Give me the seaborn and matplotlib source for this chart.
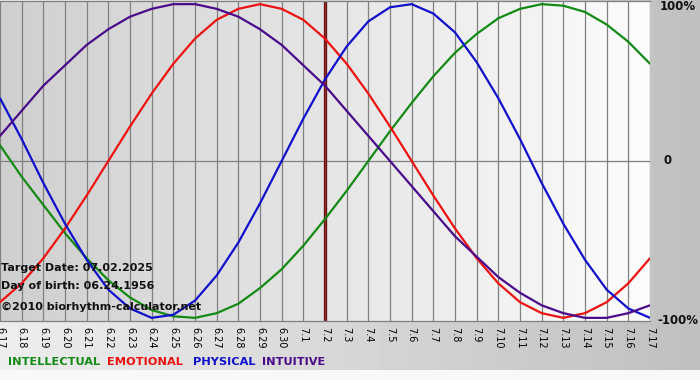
import numpy as np
import pandas as pd
import matplotlib
matplotlib.use("Agg")
import matplotlib.pyplot as plt
import seaborn as sns

# ---- data ----
day_labels = ["6.17", "6.18", "6.19", "6.20", "6.21", "6.22", "6.23", "6.24", "6.25", "6.26",
              "6.27", "6.28", "6.29", "6.30", "7.1", "7.2", "7.3", "7.4", "7.5", "7.6",
              "7.7", "7.8", "7.9", "7.10", "7.11", "7.12", "7.13", "7.14", "7.15", "7.16", "7.17"]
intellectual = [0.10, -0.10, -0.28, -0.46, -0.62, -0.76, -0.87, -0.95, -0.99, -1.00,
                -0.97, -0.91, -0.81, -0.69, -0.54, -0.37, -0.19, 0.00, 0.19, 0.37,
                0.54, 0.69, 0.81, 0.91, 0.97, 1.00, 0.99, 0.95, 0.87, 0.76, 0.62]
emotional = [-0.90, -0.78, -0.62, -0.43, -0.22, 0.00, 0.22, 0.43, 0.62, 0.78,
             0.90, 0.97, 1.00, 0.97, 0.90, 0.78, 0.62, 0.43, 0.22, 0.00,
             -0.22, -0.43, -0.62, -0.78, -0.90, -0.97, -1.00, -0.97, -0.90, -0.78, -0.62]
physical = [0.40, 0.14, -0.14, -0.40, -0.63, -0.82, -0.94, -1.00, -0.98, -0.89,
            -0.73, -0.52, -0.27, 0.00, 0.27, 0.52, 0.73, 0.89, 0.98, 1.00,
            0.94, 0.82, 0.63, 0.40, 0.14, -0.14, -0.40, -0.63, -0.82, -0.94, -1.00]
intuitive = [0.16, 0.32, 0.48, 0.61, 0.74, 0.84, 0.92, 0.97, 1.00, 1.00,
             0.97, 0.92, 0.84, 0.74, 0.61, 0.48, 0.32, 0.16, 0.00, -0.16,
             -0.32, -0.48, -0.61, -0.74, -0.84, -0.92, -0.97, -1.00, -1.00, -0.97, -0.92]
series_names = ["INTELLECTUAL", "EMOTIONAL", "PHYSICAL", "INTUITIVE"]
target_label = "7.2"
info_lines = ["Target Date: 07.02.2025", "Day of birth: 06.24.1956", "\u00a92010 biorhythm-calculator.net"]
y_labels = ["100%", "0", "-100%"]

colors = {"INTELLECTUAL": "#138a13", "EMOTIONAL": "#ee1111", "PHYSICAL": "#1010cc", "INTUITIVE": "#4a0a8a"}

sns.set_style("white")
plt.rcParams["font.family"] = ["DejaVu Sans"]

n = len(day_labels)
days = list(range(n))
df = pd.concat([
    pd.DataFrame({"day": days, "value": vals, "series": name})
    for name, vals in zip(series_names, [intellectual, emotional, physical, intuitive])
], ignore_index=True)

fig = plt.figure(figsize=(7.0, 3.8), dpi=100)

# figure background: gradient light -> gray, white strip at very bottom
bg = fig.add_axes([0, 0, 1, 1], zorder=-5)
W, H = 700, 380
grad = np.linspace(0.93, 0.75, W)[None, :].repeat(H, axis=0)
grad[-10:, :] = 0.97
bg.imshow(grad, cmap="gray", vmin=0, vmax=1, aspect="auto", extent=[0, 1, 0, 1], interpolation="bilinear")
bg.set_axis_off()

ax = fig.add_axes([0.0, (380 - 321) / 380, 650 / 700, 320 / 380])
ylo, yhi = -1.02, 1.02
ax.imshow(np.linspace(0.81, 0.985, 200)[None, :], cmap="gray", vmin=0, vmax=1, aspect="auto",
          extent=[0, n - 1, ylo, yhi], zorder=0, interpolation="bilinear")

for d in days:
    ax.axvline(d, color="#808080", lw=0.9, zorder=1)
ax.axhline(0, color="#808080", lw=0.9, zorder=1)

tgt = day_labels.index(target_label)
ax.axvline(tgt, color="#5a1010", lw=2.4, zorder=2)
ax.axvline(tgt, color="#9a2a2a", lw=1.0, zorder=2)

sns.lineplot(data=df, x="day", y="value", hue="series", palette=colors, legend=False,
             linewidth=1.6, ax=ax, zorder=3)

ax.set_xlim(0, n - 1)
ax.set_ylim(ylo, yhi)
ax.set_xticks(days)
ax.set_xticklabels(day_labels, rotation=270, fontsize=7, color="black")
ax.tick_params(axis="x", length=3, width=0.9, color="#808080", pad=1)
ax.set_yticks([])
ax.set_xlabel("")
ax.set_ylabel("")
for s in ["left", "right"]:
    ax.spines[s].set_visible(False)
for s in ["top", "bottom"]:
    ax.spines[s].set_color("#808080")
    ax.spines[s].set_linewidth(0.9)

# info text
for t, yv in zip(info_lines, [-0.68, -0.80, -0.93]):
    ax.text(0.05, yv, t, fontsize=8, fontweight="bold",
            color="#111111", va="center", ha="left", zorder=5)

# right labels (placed in figure pixels)
right_pos = [(660, 7), (663, 161), (657, 321)]
for lab, (px, py) in zip(y_labels, right_pos):
    fig.text(px / 700, 1 - py / 380, lab, fontsize=8.5, fontweight="bold",
             color="#111111", va="center", ha="left")

# legend row
legend_x = [8, 107, 193, 262]
for name, px in zip(series_names, legend_x):
    fig.text(px / 700, 1 - 362 / 380, name, fontsize=8.2, fontweight="bold",
             color=colors[name], va="center", ha="left")

fig.savefig("out.png", dpi=100)
